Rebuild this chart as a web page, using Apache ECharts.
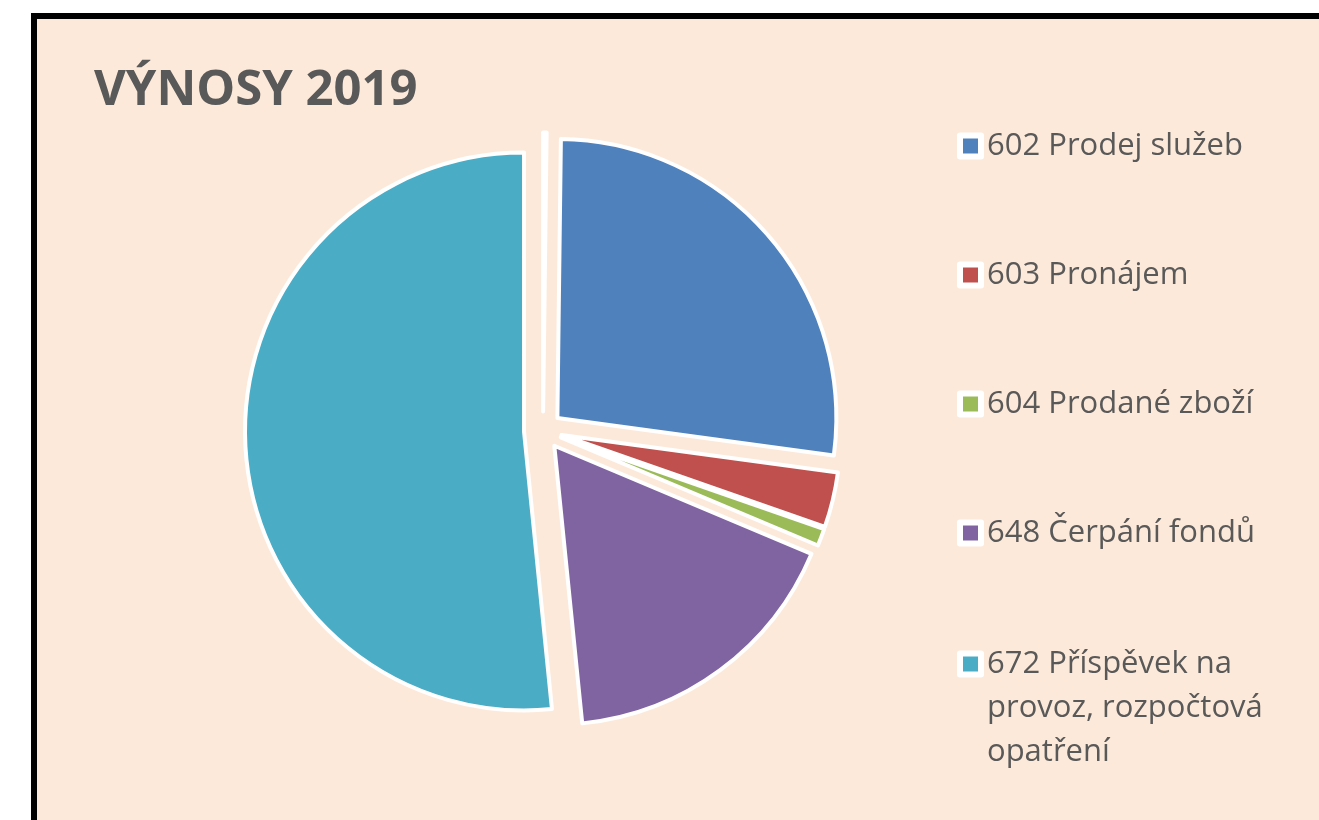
<!DOCTYPE html>
<html>
<head>
<meta charset="utf-8">
<script src="https://cdn.jsdelivr.net/npm/echarts@6/dist/echarts.min.js"></script>
<style>
html,body{margin:0;padding:0;background:#fff;}
#c{width:1319px;height:820px;}
</style>
</head>
<body>
<div id="c"></div>
<script>
// Data (shares in %)
const titleText = 'VÝNOSY 2019';
const categories = ['602 Prodej služeb', '603 Pronájem', '604 Prodané zboží', '648 Čerpání fondů', '672 Příspěvek na provoz, rozpočtová opatření'];
const values = [27.0, 3.2, 1.0, 17.1, 51.7];
const colors = ['#4F81BD', '#C0504D', '#9BBB59', '#8064A2', '#4BACC6'];
// thin empty slice visible at 12 o'clock
const gapName = ' ';
const gapValue = 0.2;

const chart = echarts.init(document.getElementById('c'), null, {renderer: 'canvas'});

const pieData = [{name: gapName, value: gapValue, selected: true, itemStyle: {color: '#ffffff'}}].concat(
  categories.map((n, i) => ({name: n, value: values[i], selected: true, itemStyle: {color: colors[i]}}))
);

const txtColor = '#595959';
const font = 'Open Sans';

chart.setOption({
  backgroundColor: '#ffffff',
  animation: false,
  graphic: [{
    type: 'rect', z: -10, silent: true,
    shape: {x: 34, y: 16, width: 1400, height: 900},
    style: {fill: '#FDE9D9', stroke: '#000000', lineWidth: 6}
  }],
  title: {
    text: titleText, left: 94, top: 67, padding: 0,
    textStyle: {fontFamily: font, fontWeight: 'bold', fontSize: 49, color: txtColor}
  },
  legend: [{
    data: categories.slice(0, 4),
    orient: 'vertical', left: 957, top: 126, padding: 0,
    itemWidth: 21, itemHeight: 21, itemGap: 89,
    icon: 'rect', selectedMode: false,
    itemStyle: {borderColor: '#ffffff', borderWidth: 6},
    textStyle: {fontFamily: font, fontSize: 31, color: txtColor, lineHeight: 40, padding: [0, 0, 0, 1]}
  }, {
    data: categories.slice(4),
    orient: 'vertical', left: 957, top: 554, padding: 0,
    itemWidth: 21, itemHeight: 21,
    icon: 'rect', selectedMode: false,
    itemStyle: {borderColor: '#ffffff', borderWidth: 6},
    formatter: function () { return '\n\n672 Příspěvek na\nprovoz, rozpočtová\nopatření'; },
    textStyle: {fontFamily: font, fontSize: 31, color: txtColor, lineHeight: 44, padding: [0, 0, 0, 1]}
  }],
  series: [{
    type: 'pie',
    center: [543, 430.5],
    radius: 279,
    startAngle: 90,
    clockwise: true,
    selectedMode: 'multiple',
    selectedOffset: 19,
    avoidLabelOverlap: false,
    label: {show: false},
    labelLine: {show: false},
    itemStyle: {borderColor: '#ffffff', borderWidth: 4},
    select: {itemStyle: {borderColor: '#ffffff', borderWidth: 4}},
    emphasis: {disabled: true},
    data: pieData
  }]
});
</script>
</body>
</html>
